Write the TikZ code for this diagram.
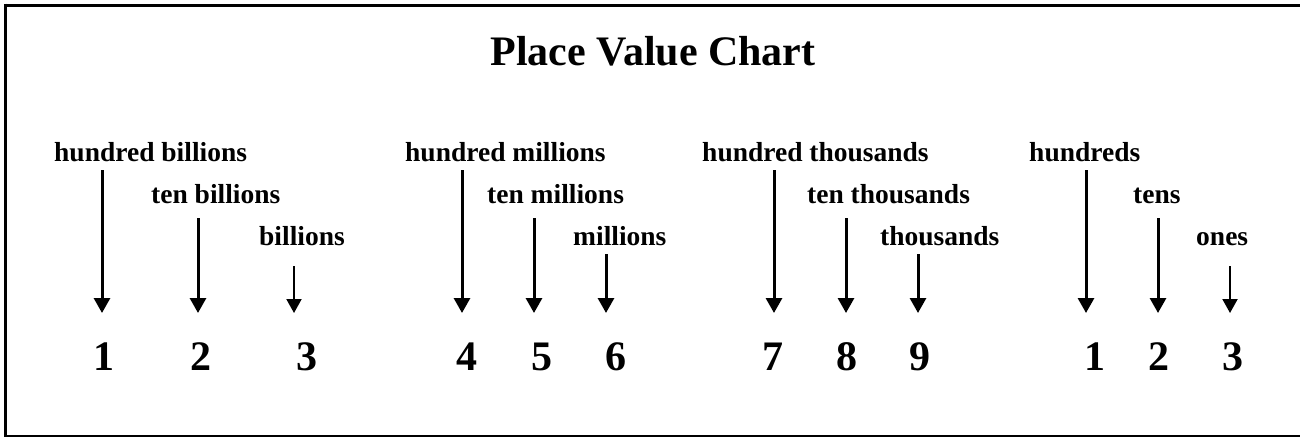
\documentclass[tikz,border=0pt]{standalone}
\usepackage{fontspec}
\setmainfont{Liberation Serif}
\usetikzlibrary{arrows.meta}
\begin{document}
\begin{tikzpicture}[x=1pt,y=-1pt,
  lbl/.style={anchor=base west,inner sep=0pt,font=\fontsize{27.5}{33}\selectfont\bfseries},
  digit/.style={anchor=base,inner sep=0pt,font=\fontsize{42}{50}\selectfont\bfseries},
  arr/.style={line width=3pt,-{Triangle[width=16pt,length=15pt]}},
  thinarr/.style={line width=2pt,-{Triangle[width=15pt,length=14pt]}},
  frame/.style={line width=3.5pt,black}]
\useasboundingbox (0,0) rectangle (1300,437);
% frame
\draw[frame] (4,5.3) -- (1300,5.3);
\draw[frame] (5.6,3.5) -- (5.6,437);
\draw[line width=2.2pt] (4,435.6) -- (1300,435.6);
% title
\node[anchor=base,inner sep=0pt,font=\fontsize{42}{50}\selectfont\bfseries] (title) at (653,65) {Place Value Chart};
% labels
\node[lbl] (hb) at (54,161) {hundred billions};
\node[lbl] (tb) at (151,203) {ten billions};
\node[lbl] (b)  at (259,245) {billions};
\node[lbl] (hm) at (405,161) {hundred millions};
\node[lbl] (tm) at (487,203) {ten millions};
\node[lbl] (m)  at (573,245) {millions};
\node[lbl] (ht) at (702,161) {hundred thousands};
\node[lbl] (tt) at (807,203) {ten thousands};
\node[lbl] (t)  at (880,245) {thousands};
\node[lbl] (h)  at (1029,161) {hundreds};
\node[lbl] (te) at (1133,203) {tens};
\node[lbl] (o)  at (1196,245) {ones};
% digits
\node[digit] (d1) at (104,370) {1};
\node[digit] (d2) at (201,370) {2};
\node[digit] (d3) at (307,370) {3};
\node[digit] (d4) at (467,370) {4};
\node[digit] (d5) at (542,370) {5};
\node[digit] (d6) at (616,370) {6};
\node[digit] (d7) at (773,370) {7};
\node[digit] (d8) at (847,370) {8};
\node[digit] (d9) at (920,370) {9};
\node[digit] (d10) at (1095,370) {1};
\node[digit] (d11) at (1159,370) {2};
\node[digit] (d12) at (1233,370) {3};
% arrow ends
\foreach \n/\x/\y in {1/102/170,2/198/218,3/294/266,4/462/170,5/534/218,6/606/254,
  7/774/170,8/846/218,9/918/254,10/1086/170,11/1158/218,12/1230/266}{
  \coordinate (s\n) at (\x,\y);
  \coordinate (e\n) at (\x,313);
}
\foreach \n in {1,2,4,5,6,7,8,9,10,11}{\draw[arr] (s\n) -- (e\n);}
\foreach \n in {3,12}{\draw[thinarr] (s\n) -- (e\n);}
\end{tikzpicture}
\end{document}
